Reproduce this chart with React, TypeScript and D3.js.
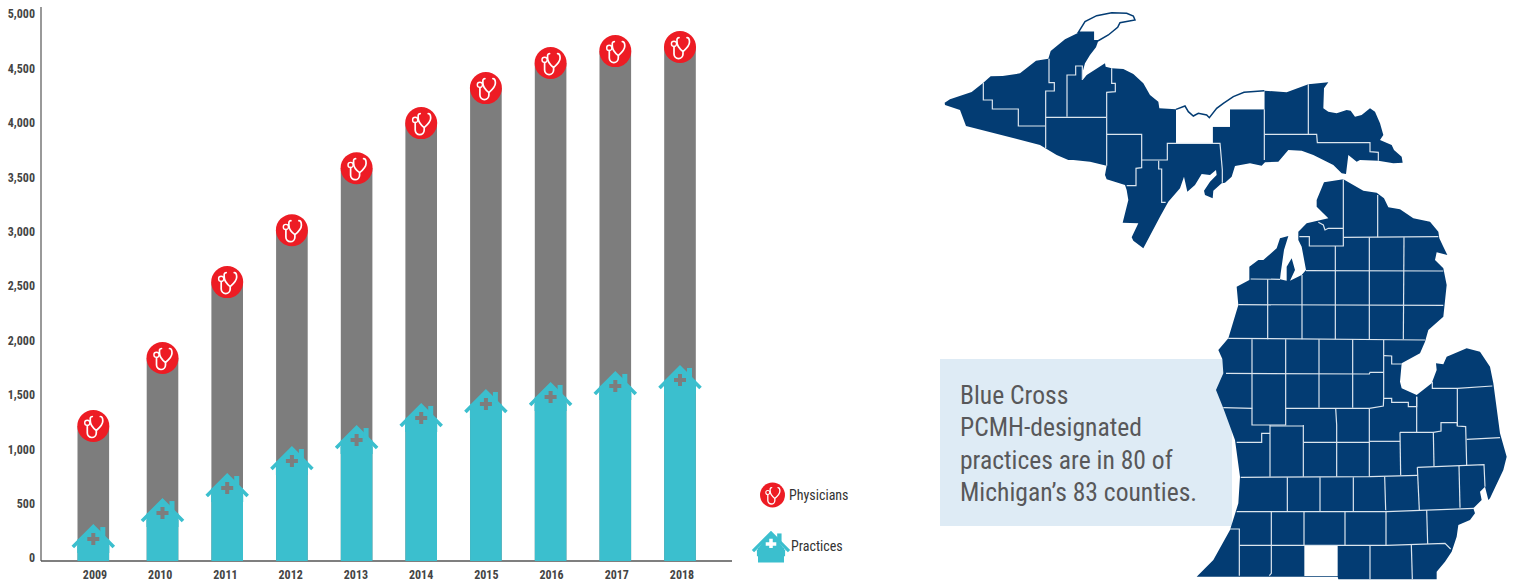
import React from "react";
import * as d3 from "d3";

const years = ["2009","2010","2011","2012","2013","2014","2015","2016","2017","2018"];
const physicians = [1204,1829,2527,3004,3574,3988,4310,4540,4650,4687];
const practices = [165,404,634,882,1075,1278,1406,1471,1572,1627];
const yTicks = [0,500,1000,1500,2000,2500,3000,3500,4000,4500,5000];
const legendLabels = ["Physicians","Practices"];
const noteLines = ["Blue Cross","PCMH-designated","practices are in 80 of","Michigan\u2019s 83 counties."];

type P = [number, number];

// Upper peninsula geography, in a traced map grid
const upOutline: P[] = [[44,308],[60,298],[125,276],[160,248],[182,229],[218,228],[270,220],[318,182],[355,176],[362,153],[405,118],[445,98],[490,97],[490,122],[505,122],[498,142],[480,165],[465,190],[458,215],[458,240],[470,225],[490,212],[525,190],[527,200],[545,205],[580,207],[610,222],[640,250],[660,285],[685,305],[688,325],[738,328],[738,430],[848,430],[848,380],[900,380],[900,328],[1003,328],[1003,272],[1070,277],[1135,253],[1195,247],[1182,265],[1180,325],[1195,335],[1220,340],[1250,330],[1262,332],[1275,350],[1295,345],[1320,325],[1335,335],[1350,370],[1360,405],[1350,420],[1385,435],[1392,450],[1415,470],[1418,488],[1390,490],[1345,482],[1290,480],[1280,485],[1255,465],[1248,522],[1235,520],[1210,495],[1150,465],[1115,452],[1075,450],[1045,485],[1005,487],[995,497],[960,490],[915,498],[905,530],[885,548],[875,550],[850,572],[848,595],[825,585],[822,572],[840,545],[860,525],[858,510],[840,525],[815,522],[795,555],[772,575],[762,530],[750,565],[715,605],[690,650],[640,745],[610,722],[605,712],[625,670],[578,668],[595,600],[590,570],[585,555],[530,538],[525,525],[530,497],[480,485],[430,480],[415,480],[380,465],[330,435],[108,378],[90,330],[45,315]];
const keweenaw: P[] = [[445,97],[465,65],[500,47],[545,38],[590,40],[610,48],[615,60],[570,68],[563,82],[535,105],[505,122],[490,122],[490,97]];
const luce: P[] = [[738,328],[765,318],[775,335],[790,348],[805,340],[830,345],[838,353],[860,325],[880,310],[910,290],[942,277],[1003,272],[1003,328],[900,328],[900,380],[848,380],[848,430],[738,430]];
const upLines: P[][] = [
  [[160,248],[160,300],[187,300],[187,327],[265,327],[265,378],[345,378]],
  [[357,176],[357,248],[373,248],[373,273],[347,273],[347,445]],
  [[347,352],[528,352]],
  [[411,350],[411,225],[437,225],[437,198],[457,198],[457,240]],
  [[545,205],[545,250],[556,250],[556,275],[530,277],[530,497]],
  [[530,403],[635,403],[635,503],[618,505],[618,557],[590,557]],
  [[635,480],[712,480],[712,430],[870,430],[877,510],[877,548]],
  [[686,482],[686,507],[695,507],[695,607],[707,607]],
  [[1003,328],[1003,480]],
  [[1003,403],[1160,403],[1162,428],[1320,428],[1320,455],[1345,457],[1345,482]],
  [[1135,253],[1135,403]],
];

// Lower peninsula geography, in a traced map grid
const lpOutline: P[] = [[432,37],[490,28],[550,62],[590,68],[612,85],[625,112],[660,118],[700,145],[750,155],[775,185],[778,205],[790,230],[802,255],[770,247],[765,270],[790,295],[800,345],[790,440],[745,480],[735,515],[720,550],[665,580],[660,635],[665,655],[710,675],[755,640],[770,600],[768,580],[790,583],[800,560],[860,535],[900,545],[930,590],[940,640],[960,790],[980,860],[970,900],[930,985],[925,990],[915,950],[900,965],[905,990],[880,1015],[885,1030],[870,1050],[835,1065],[830,1100],[815,1145],[795,1175],[770,1205],[770,1228],[475,1228],[473,1220],[50,1220],[100,1170],[150,1080],[175,1000],[180,920],[165,810],[130,715],[108,660],[130,610],[127,567],[115,540],[145,505],[175,405],[170,350],[208,330],[208,290],[235,270],[250,270],[290,235],[300,205],[325,198],[312,240],[302,310],[300,328],[320,332],[320,290],[335,265],[345,300],[330,332],[365,315],[378,300],[365,230],[355,210],[355,185],[380,160],[445,145],[410,110],[410,90]];
const stJoseph: P[] = [[373,1128],[473,1128],[473,1218],[373,1218]];
const lpLines: P[][] = [
  [[490,28],[490,228],[388,228],[388,200],[358,200]],
  [[593,75],[593,202]],
  [[490,202],[775,200]],
  [[415,157],[430,165],[435,180],[445,175],[490,175]],
  [[466,228],[466,508]],
  [[568,202],[568,508]],
  [[672,202],[670,508]],
  [[378,302],[790,303]],
  [[212,327],[300,328]],
  [[263,328],[263,508]],
  [[366,315],[366,508]],
  [[175,404],[790,406]],
  [[145,505],[735,510]],
  [[216,508],[216,765],[317,765],[317,508]],
  [[417,508],[417,713]],
  [[518,508],[518,713]],
  [[611,510],[611,685],[635,685],[635,697],[685,697],[685,710],[710,710],[710,680]],
  [[612,557],[635,558],[635,582],[665,582]],
  [[138,610],[568,612],[570,607],[611,607]],
  [[130,713],[217,715]],
  [[568,715],[610,708],[611,685]],
  [[317,715],[568,715]],
  [[710,680],[710,787]],
  [[568,715],[568,920]],
  [[467,715],[470,765],[470,920]],
  [[270,765],[270,920]],
  [[370,765],[370,920]],
  [[270,768],[370,768]],
  [[170,817],[245,817],[245,790],[270,790]],
  [[370,817],[568,817]],
  [[568,814],[660,814]],
  [[660,787],[760,787],[783,783],[783,758],[832,758],[832,768],[857,770],[860,885]],
  [[660,787],[662,916]],
  [[760,787],[762,888]],
  [[757,635],[757,655],[832,655],[937,648]],
  [[832,655],[832,768]],
  [[860,808],[960,803]],
  [[182,922],[570,920],[712,916]],
  [[712,892],[912,884],[915,950]],
  [[712,892],[718,1020]],
  [[837,888],[840,1013]],
  [[322,922],[322,1023]],
  [[420,922],[420,1023]],
  [[520,922],[520,1023]],
  [[614,920],[617,1020]],
  [[170,1025],[620,1025],[882,1015]],
  [[274,1025],[274,1128]],
  [[372,1025],[372,1128]],
  [[495,1025],[495,1125]],
  [[618,1022],[618,1126]],
  [[740,1020],[743,1122]],
  [[178,1126],[620,1126],[795,1120],[812,1137]],
  [[150,1077],[178,1077],[178,1217]],
  [[274,1128],[274,1210],[268,1217]],
  [[570,1128],[570,1228]],
  [[694,1125],[697,1228]],
];

const NAVY = "#033c73";
const GRAY = "#7d7d7d";
const TEAL = "#3bbfce";
const RED = "#ed1c24";
const NARROW = "'Liberation Sans Narrow','Roboto Condensed','Liberation Sans',sans-serif";

function Stethoscope({ x, y, k = 1 }: { x: number; y: number; k?: number }) {
  return (
    <g transform={`translate(${x},${y}) scale(${k})`}>
      <circle r={16} fill={RED} />
      <path
        d="M-1,-9.5 C-3.5,-9.5 -3,-7 -3,-5 C-3,0 1,3 3,4.5 C6,2 9.5,-2 9.5,-5 C9.5,-7 9.5,-9.5 7,-9.5 M3,4.5 L3,7 A4.5,4.5 0 0 1 -6,7 L-6,-0.5"
        fill="none" stroke="#fff" strokeWidth={1.7} strokeLinecap="round"
      />
      <circle cx={-6} cy={-3.2} r={2.6} fill="none" stroke="#fff" strokeWidth={1.4} />
    </g>
  );
}

function Roof({ x, y, crossColor, k = 1 }: { x: number; y: number; crossColor: string; k?: number }) {
  // origin is the centre of the cross
  return (
    <g transform={`translate(${x},${y}) scale(${k})`}>
      <path d="M-16,7 L0,-14 L16,7 L16,14 L-16,14 Z" fill={TEAL} />
      <path d="M-20.5,8 L0,-12.5 L20.5,8" fill="none" stroke={TEAL} strokeWidth={3.6} />
      <rect x={7} y={-12} width={5} height={10} fill={TEAL} />
      <path d="M-2,-6 H2 V-2 H6 V2 H2 V6 H-2 V2 H-6 V-2 H-2 Z" fill={crossColor} />
    </g>
  );
}

export default function App() {
  const y = d3.scaleLinear().domain([0, 5000]).range([557, 13]);
  const barX = d3.scaleOrdinal<string, number>().domain(years)
    .range([93.3, 162.5, 227.2, 291.9, 356.6, 421.2, 485.9, 550.6, 615.3, 680]);
  const labelX = d3.scalePoint<string>().domain(years).range([95, 682]);
  const baseY = 561;
  const barW = 31.6;

  const upX = d3.scaleLinear().domain([0, 3]).range([930, 931]);
  const upY = d3.scaleLinear().domain([0, 3]).range([0, 1]);
  const lpX = d3.scaleLinear().domain([0, 3]).range([1180, 1181]);
  const lpY = d3.scaleLinear().domain([0, 3]).range([170, 171]);
  const upLine = d3.line<P>().x(d => upX(d[0])).y(d => upY(d[1]));
  const lpLine = d3.line<P>().x(d => lpX(d[0])).y(d => lpY(d[1]));
  const lineColor = "#dbe5ee";

  return (
    <svg width={1514} height={581} style={{ position: "absolute", left: 0, top: 0, display: "block" }}>
      <rect width={1514} height={581} fill="#fff" />

      {/* axes */}
      <line x1={41} x2={41} y1={7} y2={baseY} stroke="#6e6e6e" strokeWidth={1.4} />
      <line x1={41} x2={732} y1={baseY} y2={baseY} stroke="#555" strokeWidth={1.3} />
      {yTicks.map(t => (
        <text key={t} x={35} y={y(t)} dy="0.45em" textAnchor="end" fontFamily={NARROW} fontWeight={700} fontSize={12} fill="#444">
          {d3.format(",")(t)}
        </text>
      ))}
      {years.map(yr => (
        <text key={yr} x={labelX(yr)} y={579} textAnchor="middle" fontFamily={NARROW} fontWeight={700} fontSize={12} fill="#444">
          {yr}
        </text>
      ))}

      {/* bars */}
      {years.map((yr, i) => (
        <g key={yr}>
          <rect x={barX(yr) - barW / 2} y={y(physicians[i])} width={barW} height={baseY - y(physicians[i])} fill={GRAY} />
          <rect x={barX(yr) - barW / 2} y={y(practices[i])} width={barW} height={baseY - y(practices[i])} fill={TEAL} />
          <Roof x={barX(yr)} y={y(practices[i])} crossColor={GRAY} />
          <Stethoscope x={barX(yr)} y={y(physicians[i])} />
        </g>
      ))}

      {/* legend */}
      <Stethoscope x={772.5} y={495} k={0.78} />
      <text x={789} y={500} fontFamily={NARROW} fontSize={14} fill="#333">{legendLabels[0]}</text>
      <g>
        <Roof x={771} y={544} crossColor="#fff" k={0.88} />
        <rect x={758} y={548} width={26} height={14.5} fill={TEAL} />
      </g>
      <text x={791} y={551} fontFamily={NARROW} fontSize={14} fill="#333">{legendLabels[1]}</text>

      {/* note box */}
      <rect x={940} y={359} width={292} height={167} fill="#deebf5" />
      {noteLines.map((l, i) => (
        <text key={l} x={960} y={404 + i * 32.3} fontFamily={NARROW} fontSize={25.6} fill="#58585a">{l}</text>
      ))}

      {/* map */}
      <path d={upLine(upOutline) + "Z"} fill={NAVY} />
      <path d={upLine(keweenaw) + "Z"} fill="#fff" stroke={NAVY} strokeWidth={1.5} />
      <path d={upLine(luce)} fill="#fff" />
      <path d={upLine(luce.slice(0, 12))} fill="none" stroke={NAVY} strokeWidth={1.5} />
      {upLines.map((l, i) => (
        <path key={i} d={upLine(l)!} fill="none" stroke={lineColor} strokeWidth={1.2} />
      ))}
      <path d={lpLine(lpOutline) + "Z"} fill={NAVY} />
      <path d={lpLine(stJoseph) + "Z"} fill="#fff" />
      {lpLines.map((l, i) => (
        <path key={i} d={lpLine(l)!} fill="none" stroke={lineColor} strokeWidth={1.2} />
      ))}
    </svg>
  );
}
